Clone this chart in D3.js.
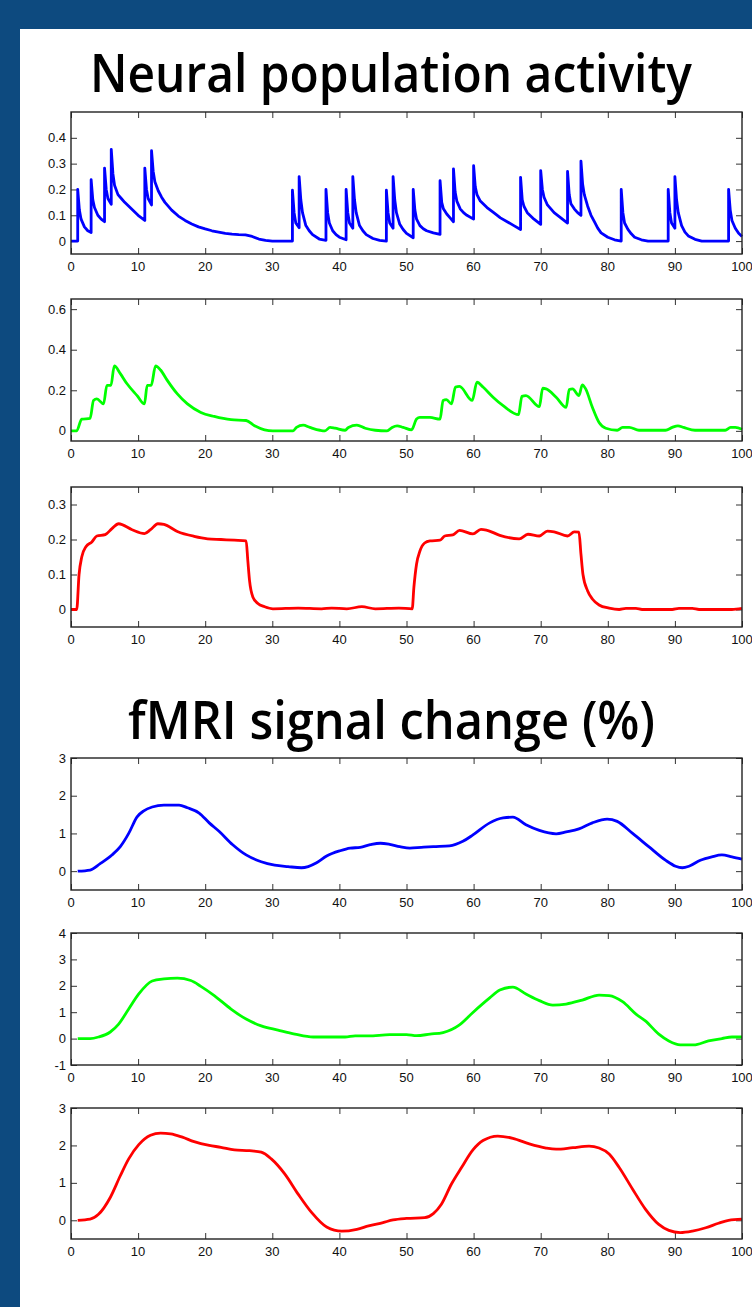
<!DOCTYPE html>
<meta charset="utf-8">
<style>
body { margin: 0; background: #0d4a7f; }
.box { fill: none; stroke: #222; stroke-width: 1.4; }
.tick line { stroke: #333; stroke-width: 1; }
.lbl { font-family: "Liberation Sans", Arial, sans-serif; font-size: 13px; fill: #111; }
.title { font-family: "Open Sans", sans-serif; font-weight: 600; fill: #000; }
.trace { fill: none; stroke-width: 2.8; stroke-linejoin: round; }
</style>
<div id="chart"></div>
<script src="https://d3js.org/d3.v7.min.js"></script>
<script>

// time axis ticks shared by all six panels
var xTicks = [0, 10, 20, 30, 40, 50, 60, 70, 80, 90, 100];

// neural population activity, [time, value]
var neuralBlue = [[0,0],[1,0],
  [1,0.2],[1.25,0.12],[1.5,0.085],[2,0.055],[2.5,0.04],[3,0.033],
  [3,0.238],[3.25,0.16],[3.5,0.13],[4,0.1],[4.5,0.085],[5,0.075],
  [5,0.283],[5.25,0.2],[5.5,0.165],[6,0.143],
  [6,0.355],[6.25,0.26],[6.5,0.215],[7,0.18],[7.5,0.165],[8,0.15],[9,0.125],[10,0.1],[11,0.08],
  [11,0.283],[11.25,0.2],[11.5,0.165],[12,0.14],
  [12,0.35],[12.25,0.27],[12.5,0.23],[13,0.195],[13.5,0.17],[14,0.15],[15,0.12],[16,0.097],[17,0.08],
  [18,0.066],[19,0.055],[20,0.047],[21,0.04],[22,0.035],[23,0.03],[24,0.027],[25,0.025],[26,0.024],
  [27,0.018],[28,0.008],[29,0.003],[30,0],[33,0],
  [33,0.197],[33.25,0.11],[33.5,0.07],[34,0.052],
  [34,0.25],[34.25,0.16],[34.5,0.11],[35,0.06],[35.5,0.04],[36,0.025],[37,0.008],[38,0.003],
  [38,0.2],[38.25,0.11],[38.5,0.07],[39,0.04],[39.5,0.025],[40,0.015],[41,0.005],
  [41,0.2],[41.25,0.11],[41.5,0.07],[42,0.05],
  [42,0.25],[42.25,0.16],[42.5,0.11],[43,0.06],[43.5,0.04],[44,0.025],[45,0.01],[46,0.003],[47,0],
  [47,0.197],[47.25,0.11],[47.5,0.07],[48,0.05],
  [48,0.25],[48.25,0.16],[48.5,0.11],[49,0.065],[49.5,0.045],[50,0.03],[51,0.013],
  [51,0.2],[51.25,0.12],[51.5,0.085],[52,0.06],[52.5,0.048],[53,0.04],[54,0.032],[55,0.026],
  [55,0.234],[55.25,0.15],[55.5,0.125],[56,0.105],[56.5,0.09],[57,0.075],
  [57,0.28],[57.25,0.19],[57.5,0.155],[58,0.125],[58.5,0.11],[59,0.1],[60,0.085],
  [60,0.292],[60.25,0.21],[60.5,0.18],[61,0.155],[62,0.13],[63,0.11],[64,0.09],[65,0.075],[66,0.06],[67,0.045],
  [67,0.247],[67.25,0.16],[67.5,0.135],[68,0.11],[69,0.085],[70,0.065],
  [70,0.273],[70.25,0.2],[70.5,0.17],[71,0.14],[72,0.11],[73,0.09],[74,0.07],
  [74,0.27],[74.25,0.18],[74.5,0.145],[75,0.125],[75.5,0.11],[76,0.1],
  [76,0.31],[76.25,0.22],[76.5,0.18],[77,0.135],[77.5,0.1],[78,0.075],[78.5,0.05],[79,0.032],[80,0.015],[81,0.005],[82,0],
  [82,0.2],[82.25,0.11],[82.5,0.07],[83,0.045],[83.5,0.028],[84,0.015],[85,0.005],[86,0],[89,0],
  [89,0.2],[89.25,0.11],[89.5,0.07],[90,0.05],
  [90,0.25],[90.25,0.16],[90.5,0.11],[91,0.06],[91.5,0.035],[92,0.02],[93,0.007],[94,0],[98,0],
  [98,0.2],[98.25,0.12],[98.5,0.08],[99,0.05],[99.5,0.03],[100,0.018]];

var neuralGreen = [[0,0],[0.85,0],[1.6,0.058],[2.85,0.061],[3.35,0.15],[3.85,0.158],[4.85,0.133],
  [5.35,0.224],[5.95,0.224],[6.45,0.32],[7.35,0.282],[8.35,0.232],[9.85,0.174],[10.95,0.133],
  [11.35,0.224],[11.95,0.224],[12.6,0.32],[13.35,0.3],[14.35,0.249],[15.85,0.182],[17.35,0.133],
  [19.35,0.091],[21.35,0.071],[23.85,0.055],[26.1,0.051],[27.35,0.025],[28.85,0.005],[30.1,0],[33.1,0],
  [33.6,0.017],[34.6,0.028],[35.6,0.017],[37.1,0.003],[37.85,0],[38.6,0.017],[39.35,0.013],[40.85,0.003],
  [41.35,0.017],[42.6,0.028],[43.85,0.013],[45.35,0.003],[47.1,0],[47.85,0.017],[48.6,0.025],[49.5,0.017],
  [50.75,0.005],[51.5,0.058],[52,0.066],[53.5,0.066],[55,0.058],[55.45,0.15],[55.95,0.154],[56.7,0.133],
  [57.3,0.216],[57.9,0.219],[59.8,0.15],[60.5,0.24],[61.4,0.216],[62.9,0.166],[64.4,0.124],[66.7,0.08],
  [67.2,0.17],[67.8,0.174],[69.8,0.119],[70.3,0.21],[70.8,0.207],[72.3,0.166],[73.8,0.116],
  [74.25,0.204],[74.75,0.207],[75.7,0.174],[76.2,0.227],[76.7,0.207],[77.7,0.116],[78.7,0.041],
  [79.7,0.013],[81.4,0.003],[82.2,0.017],[83.2,0.017],[84.65,0.003],[88.6,0.003],[89.6,0.017],
  [90.45,0.025],[91.3,0.017],[93,0.003],[97.5,0.003],[98.3,0.017],[99,0.017],[100,0.008]];

var neuralRed = [[0,0],[0.85,0],[1.2,0.1],[1.6,0.15],[2.25,0.18],[3.1,0.193],[3.85,0.21],[5.1,0.214],
  [6.1,0.231],[7.1,0.245],[9.1,0.228],[10.95,0.217],[11.85,0.228],[12.95,0.245],[13.85,0.243],
  [15.85,0.223],[18.35,0.209],[20.35,0.202],[22.35,0.2],[24.35,0.198],[26.1,0.196],[26.35,0.14],
  [26.6,0.084],[27.1,0.036],[27.85,0.017],[28.85,0.008],[30.1,0.002],[33.85,0.004],[37.35,0.002],
  [38.85,0.004],[41.1,0.002],[43.35,0.008],[45.35,0.002],[48.85,0.004],[50.85,0.002],
  [51.1,0.063],[51.5,0.13],[52,0.167],[52.7,0.19],[53.5,0.196],[55,0.198],[55.7,0.21],[56.9,0.213],
  [57.9,0.226],[59.9,0.216],[61.1,0.229],[61.9,0.227],[63.9,0.212],[66.8,0.202],[68.1,0.215],
  [69.8,0.21],[71,0.224],[72,0.222],[74,0.21],[75,0.222],[75.7,0.221],[76,0.158],[76.3,0.1],
  [77,0.053],[77.7,0.03],[78.7,0.013],[80.2,0.004],[81.7,0],[82.7,0.003],[84.2,0.003],[85.1,0],
  [89.6,0],[90.6,0.003],[92.6,0.003],[93.6,0],[98.5,0],[100,0.003]];

// fMRI signal change (%), [time, value]
var boldBlue = [[1,0],[2.85,0.03],[4.35,0.2],[6.1,0.43],[7.35,0.65],[8.6,1.0],[9.85,1.44],[10.85,1.6],
  [12.1,1.7],[13.85,1.75],[16.1,1.75],[17.35,1.68],[19.1,1.54],[20.6,1.28],[22.1,1.05],[24.1,0.7],
  [26.1,0.43],[28.35,0.25],[30.35,0.16],[32.35,0.12],[34.35,0.09],[35.35,0.12],[36.6,0.22],[38.1,0.4],
  [40.1,0.54],[41.6,0.61],[43.1,0.63],[44.6,0.7],[46.1,0.74],[47.5,0.71],[49,0.65],[50.5,0.61],
  [52.2,0.63],[54,0.65],[56.4,0.67],[58.4,0.79],[59.9,0.96],[62.4,1.28],[64.4,1.41],[65.85,1.43],
  [67.8,1.23],[69.8,1.08],[72.3,0.99],[73.8,1.04],[75.7,1.12],[77.7,1.28],[79.9,1.38],[81.4,1.32],
  [83.7,1.0],[86.1,0.65],[88.6,0.29],[90.1,0.13],[91.1,0.09],[92.1,0.13],[93.8,0.29],[95.5,0.38],
  [97,0.43],[98.5,0.38],[100,0.32]];

var boldGreen = [[1,0],[2.85,0],[4.1,0.06],[5.85,0.25],[7.1,0.55],[8.6,1.12],[10.1,1.69],[12.1,2.18],
  [13.85,2.26],[15.85,2.29],[17.85,2.2],[19.35,1.98],[21.35,1.63],[23.85,1.12],[26.1,0.74],[28.35,0.48],
  [30.85,0.32],[33.35,0.17],[36.1,0.06],[40.85,0.06],[42.35,0.1],[44.35,0.1],[47.5,0.15],[50,0.15],
  [51.5,0.11],[53.5,0.17],[55.45,0.23],[57.9,0.52],[59.9,0.99],[62.4,1.54],[63.9,1.84],[65.85,1.95],
  [67.8,1.69],[69.8,1.44],[71.8,1.27],[73.8,1.31],[76.2,1.46],[78.7,1.65],[80.2,1.63],[82.2,1.4],
  [84.2,0.93],[85.6,0.67],[87.6,0.17],[89.1,-0.09],[90.8,-0.24],[92.8,-0.24],[95,-0.09],[97,0],
  [98.5,0.06],[100,0.06]];

var boldRed = [[1,0],[2.85,0.03],[4.1,0.16],[5.85,0.61],[7.35,1.19],[8.6,1.64],[10.1,2.02],[11.85,2.27],
  [13.35,2.33],[14.85,2.31],[16.6,2.22],[18.35,2.1],[20.6,2.0],[22.35,1.95],[24.35,1.88],[26.6,1.86],
  [28.35,1.82],[29.85,1.64],[31.85,1.24],[33.85,0.7],[35.85,0.21],[38.1,-0.18],[40.35,-0.29],
  [42.6,-0.24],[44.35,-0.15],[46.5,-0.06],[48,0.01],[50,0.05],[52.7,0.07],[54,0.18],[55.2,0.43],
  [56.7,0.97],[58.2,1.41],[59.9,1.88],[61.4,2.13],[63.6,2.25],[65.85,2.19],[68.3,2.04],[70.8,1.93],
  [72.3,1.9],[74.8,1.94],[77.2,1.98],[78.7,1.93],[80.2,1.77],[81.7,1.41],[83.7,0.83],[85.6,0.3],
  [87.6,-0.11],[89.1,-0.27],[90.8,-0.33],[92.6,-0.29],[94.6,-0.2],[96.5,-0.08],[98,0],[100,0.03]];

var titles = ["Neural population activity", "fMRI signal change (%)"];

// spiky trace keeps straight segments (vertical jumps), the rest are smoothed
var panels = [
  {data: neuralBlue,  color: "#0000ff", curve: d3.curveLinear,    top: 112,  bottom: 254,  yDomain: [-0.05, 0.5],  yTicks: [0, 0.1, 0.2, 0.3, 0.4]},
  {data: neuralGreen, color: "#00ff00", curve: d3.curveMonotoneX, top: 299,  bottom: 441,  yDomain: [-0.05, 0.65], yTicks: [0, 0.2, 0.4, 0.6]},
  {data: neuralRed,   color: "#ff0000", curve: d3.curveMonotoneX, top: 487,  bottom: 627,  yDomain: [-0.05, 0.35], yTicks: [0, 0.1, 0.2, 0.3]},
  {data: boldBlue,    color: "#0000ff", curve: d3.curveMonotoneX, top: 758,  bottom: 890,  yDomain: [-0.5, 3],     yTicks: [0, 1, 2, 3]},
  {data: boldGreen,   color: "#00ff00", curve: d3.curveMonotoneX, top: 933,  bottom: 1065, yDomain: [-1, 4],       yTicks: [-1, 0, 1, 2, 3, 4]},
  {data: boldRed,     color: "#ff0000", curve: d3.curveMonotoneX, top: 1108, bottom: 1239, yDomain: [-0.5, 3],     yTicks: [0, 1, 2, 3]}
];

var W = 752, H = 1307;
var left = 71, right = 742, tickLen = 6;

var svg = d3.select("#chart").append("svg").attr("width", W).attr("height", H);

// white slide area over the blue frame
svg.append("rect").attr("x", 20).attr("y", 29).attr("width", W - 20).attr("height", H - 29).attr("fill", "#fff");

svg.append("text").attr("class", "title")
   .attr("x", 90).attr("y", 92)
   .attr("font-size", 52)
   .attr("textLength", 602).attr("lengthAdjust", "spacingAndGlyphs")
   .text(titles[0]);
svg.append("text").attr("class", "title")
   .attr("x", 128).attr("y", 739)
   .attr("font-size", 52)
   .attr("textLength", 527).attr("lengthAdjust", "spacingAndGlyphs")
   .text(titles[1]);

var x = d3.scaleLinear().domain([0, 100]).range([left, right]);

panels.forEach(function(p) {
  var y = d3.scaleLinear().domain(p.yDomain).range([p.bottom, p.top]);
  var g = svg.append("g");

  // matlab style: ticks point inward on all four sides
  g.append("g").attr("class", "tick")
   .attr("transform", "translate(0," + p.bottom + ")")
   .call(d3.axisBottom(x).tickValues(xTicks).tickSize(-tickLen).tickFormat(""))
   .call(function(s) { s.select(".domain").remove(); });
  g.append("g").attr("class", "tick")
   .attr("transform", "translate(0," + p.top + ")")
   .call(d3.axisTop(x).tickValues(xTicks).tickSize(-tickLen).tickFormat(""))
   .call(function(s) { s.select(".domain").remove(); });
  g.append("g").attr("class", "tick")
   .attr("transform", "translate(" + left + ",0)")
   .call(d3.axisLeft(y).tickValues(p.yTicks).tickSize(-tickLen).tickFormat(""))
   .call(function(s) { s.select(".domain").remove(); });
  g.append("g").attr("class", "tick")
   .attr("transform", "translate(" + right + ",0)")
   .call(d3.axisRight(y).tickValues(p.yTicks).tickSize(-tickLen).tickFormat(""))
   .call(function(s) { s.select(".domain").remove(); });
  g.selectAll(".tick line").attr("stroke", "#333");

  g.selectAll(".xl").data(xTicks).enter().append("text")
   .attr("class", "lbl")
   .attr("x", function(d) { return x(d); })
   .attr("y", p.bottom + 17)
   .attr("text-anchor", "middle")
   .text(function(d) { return d; });
  g.selectAll(".yl").data(p.yTicks).enter().append("text")
   .attr("class", "lbl")
   .attr("x", left - 5)
   .attr("y", function(d) { return y(d); })
   .attr("dy", "0.35em")
   .attr("text-anchor", "end")
   .text(function(d) { return d; });

  var line = d3.line()
    .curve(p.curve)
    .x(function(d) { return x(d[0]); })
    .y(function(d) { return y(d[1]); });
  g.append("path").datum(p.data)
   .attr("class", "trace")
   .attr("stroke", p.color)
   .attr("d", line);

  g.append("rect").attr("class", "box")
   .attr("x", left).attr("y", p.top)
   .attr("width", right - left).attr("height", p.bottom - p.top);
});
</script>
